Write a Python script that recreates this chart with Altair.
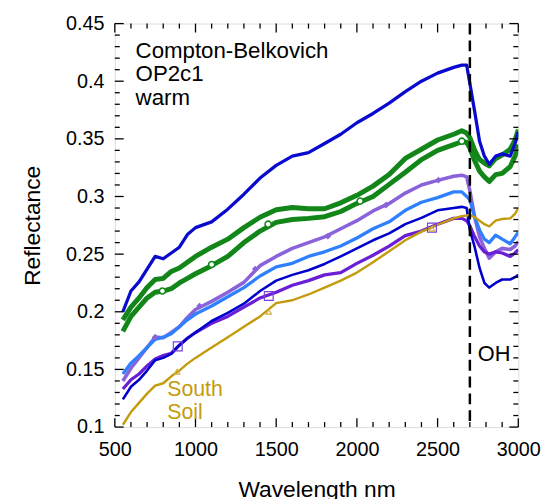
import altair as alt
import pandas as pd

# wavelength grid (nm)
wl = [550, 600, 650, 700, 750, 800, 850, 900, 950, 1000, 1100, 1200, 1300, 1400,
      1500, 1600, 1700, 1800, 1900, 2000, 2100, 2200, 2300, 2400, 2500, 2600,
      2650, 2680, 2700, 2730, 2760, 2790, 2820, 2860, 2900, 2950, 2980, 3000]

blue_top = [0.200, 0.218, 0.226, 0.237, 0.248, 0.246, 0.251, 0.256, 0.267, 0.273, 0.278, 0.289, 0.302, 0.316,
            0.327, 0.335, 0.338, 0.346, 0.354, 0.364, 0.372, 0.381, 0.391, 0.400, 0.407, 0.412,
            0.414, 0.414, 0.398, 0.3735, 0.348, 0.335, 0.328, 0.335, 0.337, 0.335, 0.346, 0.356]
green_up = [0.193, 0.204, 0.212, 0.221, 0.228, 0.229, 0.235, 0.238, 0.243, 0.248, 0.256, 0.263, 0.273, 0.282,
            0.2885, 0.2905, 0.2894, 0.2894, 0.2945, 0.301, 0.309, 0.319, 0.333, 0.341, 0.349, 0.354,
            0.357, 0.355, 0.351, 0.340, 0.332, 0.329, 0.3265, 0.333, 0.336, 0.341, 0.349, 0.358]
green_lo = [0.183, 0.196, 0.204, 0.212, 0.217, 0.218, 0.220, 0.225, 0.229, 0.233, 0.240, 0.248, 0.260, 0.270,
            0.2775, 0.280, 0.281, 0.2825, 0.287, 0.294, 0.300, 0.3105, 0.321, 0.332, 0.340, 0.345,
            0.3475, 0.347, 0.342, 0.331, 0.322, 0.317, 0.313, 0.319, 0.320, 0.326, 0.335, 0.345]
lavender = [0.140, 0.151, 0.160, 0.169, 0.178, 0.1775, 0.182, 0.187, 0.195, 0.202, 0.209, 0.217, 0.2255, 0.240,
            0.248, 0.255, 0.260, 0.265, 0.272, 0.279, 0.2875, 0.294, 0.303, 0.310, 0.314, 0.3175,
            0.3185, 0.317, 0.305, 0.282, 0.265, 0.255, 0.2465, 0.252, 0.255, 0.254, 0.257, 0.261]
sky = [0.146, 0.1555, 0.162, 0.169, 0.176, 0.178, 0.181, 0.187, 0.193, 0.198, 0.205, 0.213, 0.221, 0.231,
       0.239, 0.242, 0.248, 0.252, 0.257, 0.264, 0.272, 0.278, 0.288, 0.295, 0.299, 0.304,
       0.304, 0.300, 0.297, 0.282, 0.271, 0.263, 0.260, 0.2665, 0.263, 0.259, 0.265, 0.269]
blue_thin = [0.124, 0.135, 0.141, 0.149, 0.158, 0.160, 0.1635, 0.171, 0.177, 0.182, 0.192, 0.199, 0.207, 0.218,
             0.227, 0.232, 0.236, 0.2415, 0.248, 0.255, 0.262, 0.268, 0.276, 0.2815, 0.288, 0.290,
             0.291, 0.290, 0.271, 0.256, 0.238, 0.225, 0.221, 0.225, 0.228, 0.228, 0.230, 0.232]
violet = [0.133, 0.141, 0.146, 0.153, 0.159, 0.162, 0.164, 0.171, 0.177, 0.182, 0.190, 0.196, 0.204, 0.212,
          0.217, 0.223, 0.227, 0.232, 0.234, 0.242, 0.249, 0.257, 0.266, 0.270, 0.276, 0.281,
          0.281, 0.279, 0.2745, 0.265, 0.257, 0.252, 0.250, 0.252, 0.251, 0.248, 0.251, 0.254]
soil = [0.102, 0.113, 0.121, 0.129, 0.136, 0.138, 0.144, 0.149, 0.155, 0.160, 0.169, 0.178, 0.187, 0.196,
        0.2075, 0.210, 0.215, 0.221, 0.227, 0.234, 0.243, 0.2525, 0.262, 0.2695, 0.2755, 0.281,
        0.283, 0.2835, 0.284, 0.282, 0.279, 0.276, 0.274, 0.279, 0.2805, 0.281, 0.285, 0.290]

# marker positions
circle_x = [795, 1100, 1450, 2020, 2650]
circle_y = [0.218, 0.241, 0.276, 0.296, 0.348]
diamond_x = [750, 1025, 1370, 1820, 2180, 2505]
diamond_y = [0.178, 0.205, 0.237, 0.2655, 0.2925, 0.3142]
square_x = [890, 1454, 2465]
square_y = [0.170, 0.2137, 0.273]
tri_x = [886, 1454, 2465]
tri_y = [0.148, 0.200, 0.272]

x_major = [500, 1000, 1500, 2000, 2500, 3000]
x_minor = [v for v in range(600, 3000, 100) if v % 500 != 0]
y_major = [0.10, 0.15, 0.20, 0.25, 0.30, 0.35, 0.40, 0.45]
y_minor = [round(0.10 + 0.01 * i, 2) for i in range(1, 35) if i % 5 != 0]

oh_line = 2700

W, H = 408, 408
FONT = "Liberation Sans"

series = [
    ("lavender", lavender, "#8A63DB", 3.6),
    ("sky", sky, "#2F80FF", 3.3),
    ("violet", violet, "#6A1FD6", 3.3),
    ("blue_thin", blue_thin, "#0000CC", 2.6),
    ("green_up", green_up, "#13861A", 5.0),
    ("green_lo", green_lo, "#13861A", 5.0),
    ("blue_top", blue_top, "#0A0ACF", 3.3),
    ("soil", soil, "#C49B0C", 2.4),
]

xs = alt.Scale(domain=[500, 3000], nice=False, zero=False)
ys = alt.Scale(domain=[0.1, 0.45], nice=False, zero=False)

x_axis = alt.Axis(values=x_major, format="d", grid=False, ticks=False, domain=False,
                  labelFontSize=20, labelFont=FONT, labelColor="black", labelPadding=13,
                  titleFontSize=23, titleFont=FONT, titleFontWeight="normal", titleColor="black",
                  titlePadding=19, labelFlush=False)
y_axis = alt.Axis(values=y_major, format=".2~f", grid=False, ticks=False, domain=False,
                  labelFontSize=20, labelFont=FONT, labelColor="black", labelPadding=11,
                  titleFontSize=23, titleFont=FONT, titleFontWeight="normal", titleColor="black",
                  titlePadding=21, labelFlush=False)

X = alt.X("wl:Q", scale=xs, axis=x_axis, title="Wavelength nm")
Y = alt.Y("r:Q", scale=ys, axis=y_axis, title="Reflectance")

layers = []
for name, vals, col, sw in series:
    df = pd.DataFrame({"wl": wl, "r": vals})
    layers.append(alt.Chart(df).mark_line(color=col, strokeWidth=sw, strokeJoin="round",
                                          clip=True).encode(x=X, y=Y))

def pts(xv, yv):
    return pd.DataFrame({"wl": xv, "r": yv})

layers.append(alt.Chart(pts(circle_x, circle_y)).mark_point(
    shape="circle", size=38, filled=True, fill="white", stroke="#13861A", strokeWidth=1.6, opacity=1
).encode(x=X, y=Y))
layers.append(alt.Chart(pts(diamond_x, diamond_y)).mark_point(
    shape="diamond", size=45, filled=True, color="#8A63DB", opacity=1
).encode(x=X, y=Y))
layers.append(alt.Chart(pts(square_x, square_y)).mark_point(
    shape="square", size=80, filled=False, color="#7A3FE0", strokeWidth=1.2, opacity=1
).encode(x=X, y=Y))
layers.append(alt.Chart(pts(tri_x, tri_y)).mark_point(
    shape="triangle-up", size=30, filled=False, color="#D4B040", strokeWidth=1.2, opacity=1
).encode(x=X, y=Y))

# dashed OH line
layers.append(alt.Chart(pd.DataFrame({"wl": [oh_line]})).mark_rule(
    color="black", strokeWidth=2.5, strokeDash=[11, 6]
).encode(x=X, y=alt.value(0), y2=alt.value(H)))

# inward ticks
def xticks(vals, length):
    d = pd.DataFrame({"wl": vals})
    top = alt.Chart(d).mark_rule(color="black", strokeWidth=1.3).encode(
        x=X, y=alt.value(0), y2=alt.value(length))
    bot = alt.Chart(d).mark_rule(color="black", strokeWidth=1.3).encode(
        x=X, y=alt.value(H), y2=alt.value(H - length))
    return [top, bot]

def yticks(vals, length):
    d = pd.DataFrame({"r": vals})
    left = alt.Chart(d).mark_rule(color="black", strokeWidth=1.3).encode(
        y=Y, x=alt.value(0), x2=alt.value(length))
    right = alt.Chart(d).mark_rule(color="black", strokeWidth=1.3).encode(
        y=Y, x=alt.value(W), x2=alt.value(W - length))
    return [left, right]

layers += xticks(x_major, 9) + xticks(x_minor, 5) + yticks(y_major, 9) + yticks(y_minor, 5)

one = pd.DataFrame({"k": [0]})
layers.append(alt.Chart(one).mark_text(
    align="left", baseline="alphabetic", fontSize=22.5, font=FONT, color="black", lineHeight=23.5
).encode(x=alt.value(21), y=alt.value(35),
         text=alt.value(["Compton-Belkovich", "OP2c1", "warm"])))
layers.append(alt.Chart(one).mark_text(
    align="left", baseline="alphabetic", fontSize=22, font=FONT, color="black"
).encode(x=alt.value(367), y=alt.value(341), text=alt.value("OH")))
layers.append(alt.Chart(one).mark_text(
    align="left", baseline="alphabetic", fontSize=21.5, font=FONT, color="#C49B0C", lineHeight=22.5
).encode(x=alt.value(53), y=alt.value(377), text=alt.value(["South", "Soil"])))

chart = alt.layer(*layers).properties(
    width=W, height=H,
    autosize=alt.AutoSizeParams(type="none"),
    padding={"left": 108, "top": 13, "right": 26, "bottom": 70},
).configure_view(stroke="black", strokeWidth=2).configure(background="white")

chart.save("out.html", embed_options={"renderer": "svg", "actions": False})
